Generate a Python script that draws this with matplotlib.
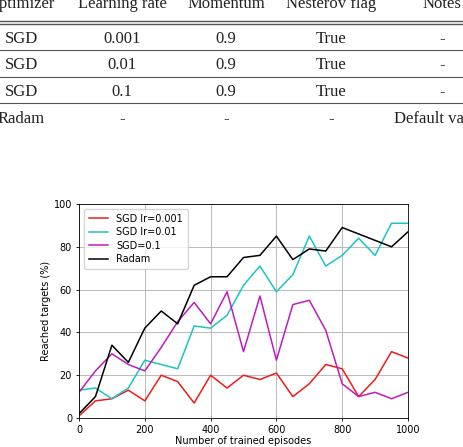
import numpy as np
import matplotlib
matplotlib.use("Agg")
import matplotlib.pyplot as plt
from matplotlib.lines import Line2D

# table above the chart
table_header = ["Optimizer", "Learning rate", "Momentum", "Nesterov flag", "Notes"]
table_rows = [
    ["SGD", "0.001", "0.9", "True", "-"],
    ["SGD", "0.01", "0.9", "True", "-"],
    ["SGD", "0.1", "0.9", "True", "-"],
    ["Radam", "-", "-", "-", "Default values"],
]

# chart data
episodes = [0, 50, 100, 150, 200, 250, 300, 350, 400, 450, 500,
            550, 600, 650, 700, 750, 800, 850, 900, 950, 1000]
sgd_001 = [1, 8, 9, 13, 8, 20, 17, 7, 20, 14, 20,
           18, 21, 10, 16, 25, 23, 10, 18, 31, 28]
sgd_01 = [13, 14, 9, 14, 27, 25, 23, 43, 42, 48, 62,
          71, 59, 67, 85, 71, 76, 84, 76, 91, 91]
sgd_1 = [12, 22, 30, 25, 22, 33, 45, 54, 44, 59, 31,
         57, 27, 53, 55, 41, 16, 10, 12, 9, 12]
radam = [2, 10, 34, 26, 42, 50, 44, 62, 66, 66, 75,
         76, 85, 74, 79, 78, 89, 86, 83, 80, 87]

W, H = 463, 447
fig = plt.figure(figsize=(W / 100, H / 100), dpi=100)

# table text, positions in pixels from the top-left
col_x = [21, 122, 226, 331, 442]
row_y = [8, 43, 69, 96, 123]
tfont = dict(family="Liberation Serif", fontsize=12, color="#222222")

def px(x, y):
    return x / W, 1 - y / H

for x, txt in zip(col_x, table_header):
    fig.text(*px(x, row_y[0]), txt, ha="center", va="baseline", **tfont)
for r, row in enumerate(table_rows):
    for x, txt in zip(col_x, row):
        fig.text(*px(x, row_y[r + 1]), txt, ha="center", va="baseline", **tfont)

for y, lw in [(21, 1.0), (24, 1.0), (49.5, 0.8), (76.5, 0.8), (103, 0.8)]:
    fig.add_artist(Line2D([0, 1], [1 - y / H, 1 - y / H], transform=fig.transFigure,
                          color="#555555", lw=lw))

# chart
ax = fig.add_axes([79 / W, 1 - 418 / H, (408 - 79) / W, (418 - 204) / H])
ax.plot(episodes, sgd_001, color="#ee1c1c", lw=1.1, label="SGD lr=0.001")
ax.plot(episodes, sgd_01, color="#1cc4c4", lw=1.1, label="SGD lr=0.01")
ax.plot(episodes, sgd_1, color="#bf1cbf", lw=1.1, label="SGD=0.1")
ax.plot(episodes, radam, color="k", lw=1.1, label="Radam")

ax.set_xlim(0, 1000)
ax.set_ylim(0, 100)
ax.set_xticks([0, 200, 400, 600, 800, 1000])
ax.set_yticks([0, 20, 40, 60, 80, 100])
ax.grid(True, color="#b0b0b0", lw=0.6)
ax.tick_params(labelsize=7, length=2.5, width=0.6, pad=2.5)
for s in ax.spines.values():
    s.set_linewidth(0.6)
ax.set_xlabel("Number of trained episodes", fontsize=7, labelpad=1)
ax.set_ylabel("Reached targets (%)", fontsize=7, labelpad=2)
ax.legend(loc="upper left", fontsize=7, handlelength=2.0, framealpha=0.8,
          borderpad=0.5, labelspacing=0.35)

fig.savefig("out.png", dpi=100)
